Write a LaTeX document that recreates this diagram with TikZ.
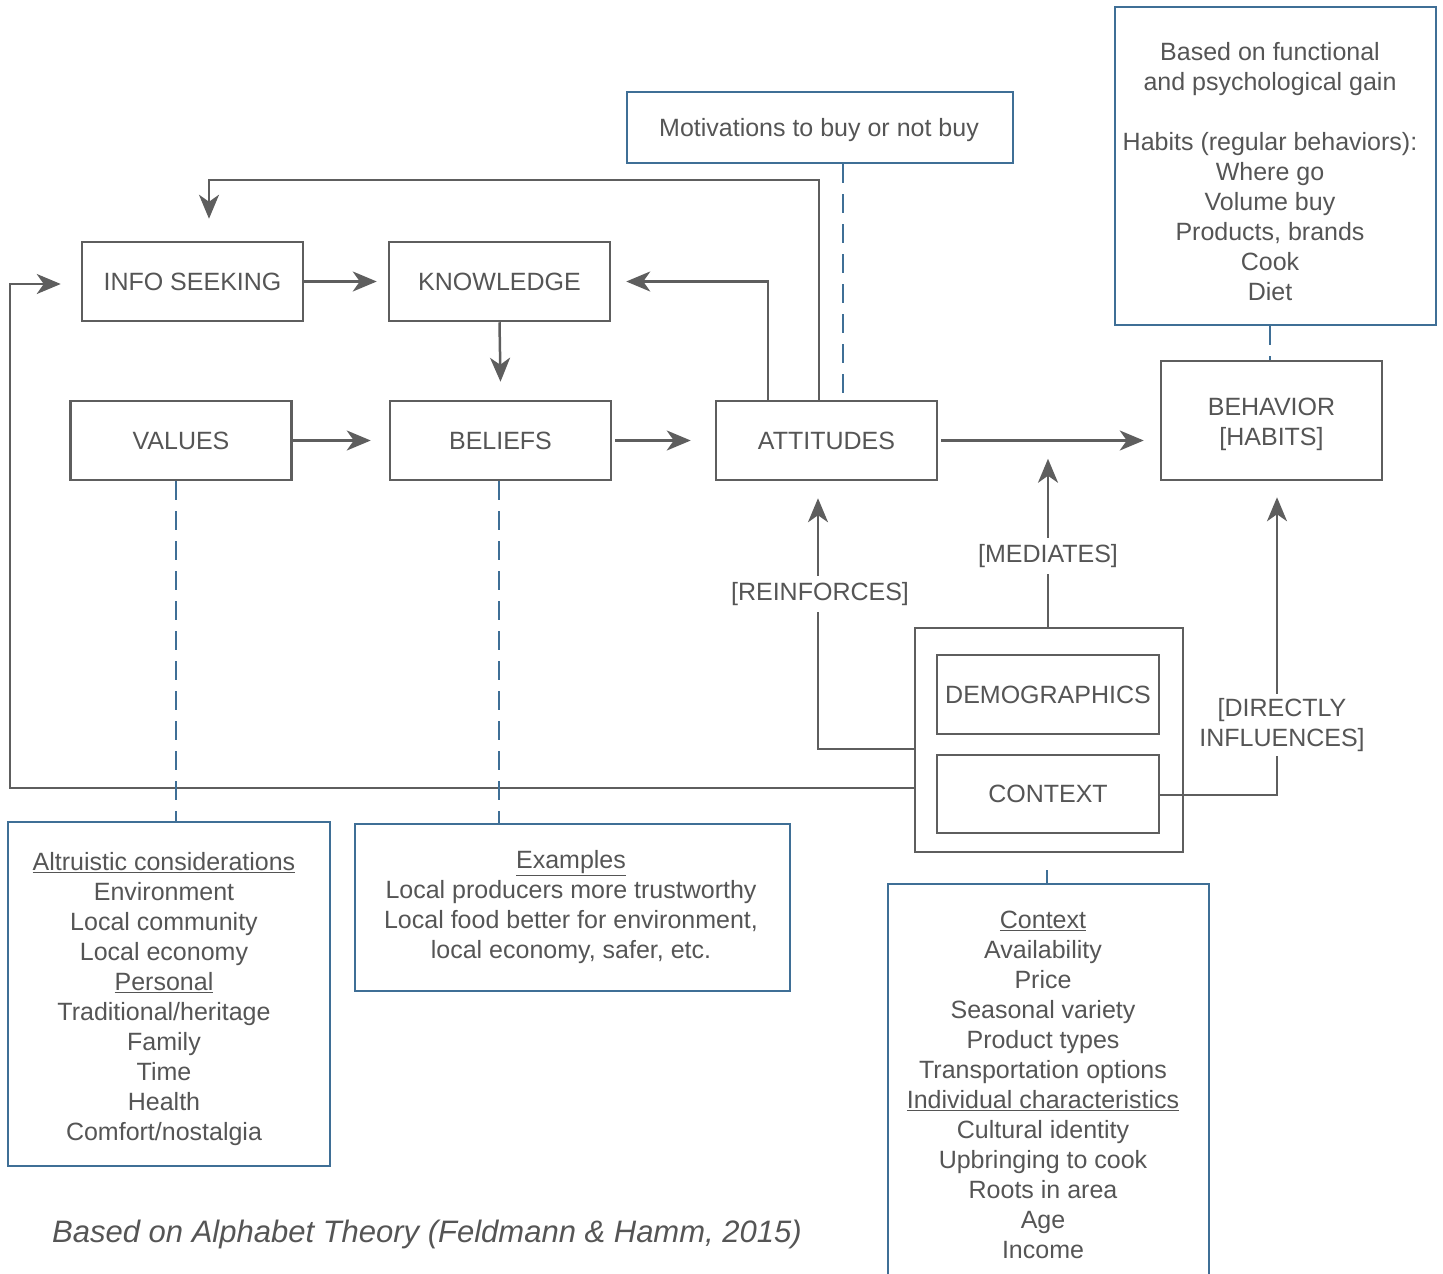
\documentclass[tikz,border=0pt]{standalone}
\usepackage{fontspec}
\setmainfont{Liberation Sans}
\usetikzlibrary{arrows.meta,calc}
\definecolor{lg}{HTML}{5E5E5E}
\definecolor{tg}{HTML}{555555}
\definecolor{bl}{HTML}{3F6F96}
\begin{document}
\begin{tikzpicture}[x=1pt,y=-1pt,
  every node/.style={text=tg, font=\fontsize{25}{30}\selectfont},
  gbox/.style={draw=lg, line width=2.5pt, minimum width=221pt, minimum height=79pt, inner sep=0pt, align=center},
  bbox/.style={draw=bl, line width=2.2pt, inner sep=0pt},
  btext/.style={align=center, inner sep=0pt},
  arr/.style={draw=lg, line width=2.5pt, -{Stealth[length=24pt,width=20pt,inset=7pt]}},
  bdash/.style={draw=bl, line width=2.2pt, dash pattern=on 19pt off 11pt},
  lbl/.style={fill=white, inner sep=6pt, align=center}]
\useasboundingbox (0,0) rectangle (1443,1274);
\clip (0,0) rectangle (1443,1274);

% main boxes
\node[gbox] (info) at (192.5,281.5) {\raisebox{-2pt}{INFO SEEKING}};
\node[gbox] (know) at (499.5,281.5) {\raisebox{-2pt}{KNOWLEDGE}};
\node[gbox] (val) at (181,440.5) {\raisebox{-1pt}{VALUES}};
\node[gbox] (bel) at (500.5,440.5) {\raisebox{-1pt}{BELIEFS}};
\node[gbox] (att) at (826.5,440.5) {\raisebox{-1pt}{ATTITUDES}};
\node[gbox, minimum height=119pt] (beh) at (1271.5,420.5) {};
\node[btext] (behtext) at (1271.5,424) {BEHAVIOR\\{[HABITS]}};
\node[gbox, minimum width=268pt, minimum height=224pt] (grp) at (1049,740) {};
\node[gbox, minimum width=222pt] (demo) at (1048,694.5) {\raisebox{-1pt}{DEMOGRAPHICS}};
\node[gbox, minimum width=222pt, minimum height=78pt] (ctx) at (1048,794) {\raisebox{-1pt}{CONTEXT}};

% blue note boxes
\node[bbox, minimum width=386pt, minimum height=71pt] (mot) at (820,127.5) {};
\node[btext] (mottext) at (819,130) {Motivations to buy or not buy};
\node[bbox, minimum width=321pt, minimum height=318pt] (hab) at (1275.5,166) {};
\node[btext] (habtext) at (1270,172)
 {Based on functional\\and psychological gain\\[30pt]Habits (regular behaviors):\\Where go\\Volume buy\\Products, brands\\Cook\\Diet};
\node[bbox, minimum width=322pt, minimum height=344pt] (alt) at (169,994) {};
\node[btext] (alttext) at (164,999)
 {\underline{Altruistic considerations}\\Environment\\Local community\\Local economy\\\underline{Personal}\\Traditional/heritage\\Family\\Time\\Health\\Comfort/nostalgia};
\node[bbox, minimum width=435pt, minimum height=167pt] (ex) at (572.5,907.5) {};
\node[btext] (extext) at (571,907)
 {\underline{Examples}\\Local producers more trustworthy\\Local food better for environment,\\local economy, safer, etc.};
\node[bbox, anchor=north, minimum width=321pt, minimum height=430pt] (cbox) at (1048.5,883) {};
\node[btext] (ctxtext) at (1043,1085)
 {\underline{Context}\\Availability\\Price\\Seasonal variety\\Product types\\Transportation options\\\underline{Individual characteristics}\\Cultural identity\\Upbringing to cook\\Roots in area\\Age\\Income};

% arrows
\draw[arr] (info.east) -- ([xshift=-11pt]know.west);
\draw[arr] (know.south) -- ([yshift=18pt]bel.north);
\draw[arr] (val.east) -- ([xshift=-18pt]bel.west);
\draw[arr] ([xshift=3pt]bel.east) -- ([xshift=-24pt]att.west);
\draw[arr] ([xshift=3pt]att.east) -- ([xshift=-16pt]beh.west |- att.east);
\draw[arr] ([xshift=-58.5pt]att.north) |- ([xshift=15pt]know.east);
\draw[arr] ([xshift=-7.5pt]att.north) -- ++(0,-220) -| ([xshift=16.5pt,yshift=22pt]info.north);
\draw[arr] ([yshift=-48pt]grp.west) -| ([xshift=-71pt,yshift=-2.5pt]info.west) -- ([xshift=-20pt,yshift=-2.5pt]info.west);
\draw[arr] ([yshift=-9pt]grp.west) -| ([xshift=-8.5pt,yshift=-17pt]att.south);
\draw[arr] ([xshift=-1pt]grp.north) -- ++(0,-168);
\draw[arr] ([yshift=-1pt]ctx.east) -| ([xshift=5.5pt,yshift=-16pt]beh.south);

% labels
\node[lbl] (reinf) at (820,594) {[REINFORCES]};
\node[lbl] (medi) at (1048,556) {[MEDIATES]};
\node[lbl, inner sep=4pt] (dinf) at (1282,725) {{[DIRECTLY}\\{INFLUENCES]}};

% dashed links
\draw[bdash] ([xshift=-5pt]val.south) -- ([xshift=-5pt]val.south |- alt.north);
\draw[bdash] ([xshift=-1.5pt]bel.south) -- ([xshift=-1.5pt]bel.south |- ex.north);
\draw[bdash] ([xshift=23pt]mot.south) -- ([xshift=23pt]mot.south |- att.north);
\draw[bdash] ([xshift=-5.5pt]hab.south) -- ([xshift=-5.5pt]hab.south |- beh.north);
\draw[bdash, dash pattern=on 0pt off 17pt on 14pt] ([xshift=-2pt]grp.south) -- ([xshift=-2pt]grp.south |- cbox.north);

% footer
\node[font=\itshape\fontsize{31}{36}\selectfont, inner sep=0pt] (foot) at (427,1234) {Based on Alphabet Theory (Feldmann \& Hamm, 2015)};
\end{tikzpicture}
\end{document}
